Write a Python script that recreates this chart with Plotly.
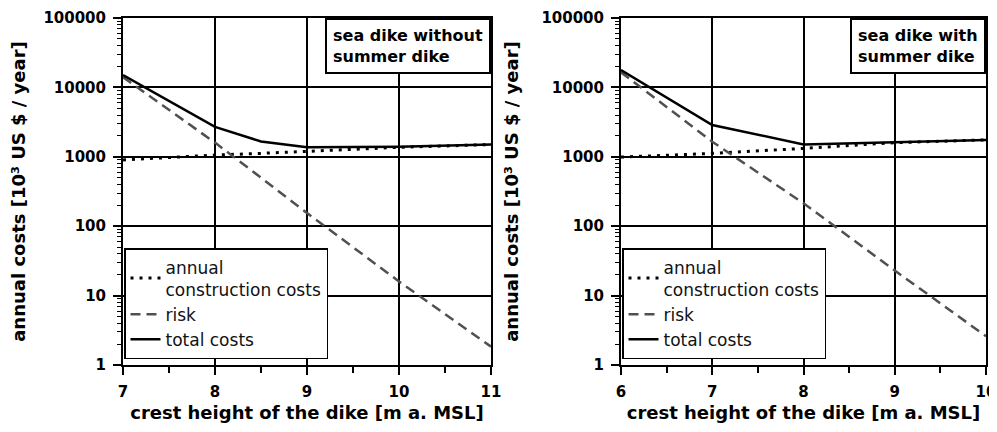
import plotly.graph_objects as go

# ---- data ----
x_left = [7, 8, 8.5, 9, 10, 11]
constr_left = [900, 1060, 1120, 1190, 1370, 1500]
risk_left = [14000, 1600, 500, 155, 16, 1.84]
total_left = [15000, 2700, 1660, 1370, 1400, 1500]

x_right = [6, 7, 8, 9, 10]
constr_right = [990, 1120, 1320, 1600, 1750]
risk_right = [16500, 1650, 214, 23, 2.6]
total_right = [17800, 2870, 1510, 1620, 1750]

y_tickvals = [1, 10, 100, 1000, 10000, 100000]
y_ticktext = ["1", "10", "100", "1000", "10000", "100000"]
y_minor = [m * 10 ** d for d in range(5) for m in range(2, 10)]

names = ["annual<br>construction costs", "risk", "total costs"]
titles = ["sea dike without<br>summer dike", "sea dike with<br>summer dike"]
x_title = "crest height of the dike [m a. MSL]"
y_title = "annual costs [10³ US $ / year]"

FONT = "DejaVu Sans"

# page body has an 8px margin: figure is placed at (8, 8)
OFF = 8
W, H = 997 - OFF, 432 - 2 * OFF


def px_x(p):
    return (p - OFF) / W


def px_y(p):
    return 1 - (p - OFF) / H


fig = go.Figure()

panels = [
    (x_left, constr_left, risk_left, total_left, "x", "y", "legend"),
    (x_right, constr_right, risk_right, total_right, "x2", "y2", "legend2"),
]
for xs, c, r, t, xa, ya, lg in panels:
    fig.add_trace(go.Scatter(x=xs, y=c, mode="lines", name=names[0], xaxis=xa, yaxis=ya,
                             legend=lg, line=dict(color="black", width=3, dash="3px,6px")))
    fig.add_trace(go.Scatter(x=xs, y=r, mode="lines", name=names[1], xaxis=xa, yaxis=ya,
                             legend=lg, line=dict(color="#505050", width=2.5, dash="10px,6px")))
    fig.add_trace(go.Scatter(x=xs, y=t, mode="lines", name=names[2], xaxis=xa, yaxis=ya,
                             legend=lg, line=dict(color="black", width=2.5)))

ydom = [px_y(365), px_y(18)]


def xaxis(dom, rng, anchor):
    return dict(
        domain=dom, range=rng, anchor=anchor, dtick=1, automargin=False,
        showline=True, linecolor="black", linewidth=2, mirror=True,
        showgrid=True, gridcolor="black", gridwidth=1.5, zeroline=False,
        ticks="outside", ticklen=8, tickwidth=2, tickcolor="black",
        ticklabelstandoff=4, ticklabeloverflow="allow",
        minor=dict(ticks="outside", ticklen=6, tickwidth=2, tickcolor="black",
                   dtick=0.5, showgrid=False),
        tickfont=dict(family=FONT, size=15, color="black", weight="bold"),
        title=dict(text="<b>" + x_title + "</b>", standoff=6,
                   font=dict(family=FONT, size=18, color="black")),
    )


def yaxis(anchor):
    return dict(
        domain=ydom, type="log", range=[0, 5], anchor=anchor, automargin=False,
        tickvals=y_tickvals, ticktext=y_ticktext,
        showline=True, linecolor="black", linewidth=2, mirror=True,
        showgrid=True, gridcolor="black", gridwidth=1.5, zeroline=False,
        ticks="outside", ticklen=8, tickwidth=2, tickcolor="black",
        ticklabelstandoff=4, ticklabeloverflow="allow",
        minor=dict(ticks="outside", ticklen=4, tickwidth=1, tickcolor="black",
                   tickvals=y_minor, showgrid=False),
        tickfont=dict(family=FONT, size=15, color="black", weight="bold"),
        title=dict(text="<b>" + y_title + "</b>", standoff=18,
                   font=dict(family=FONT, size=18, color="black")),
    )


legend_common = dict(
    bgcolor="white", bordercolor="black", borderwidth=1.5,
    font=dict(family=FONT, size=17, color="#111"),
    xanchor="left", yanchor="top", tracegroupgap=0, itemwidth=30,
)

fig.update_layout(
    width=W, height=H,
    margin=dict(l=0, r=0, t=0, b=0, autoexpand=False),
    paper_bgcolor="white", plot_bgcolor="white",
    xaxis=xaxis([px_x(123), px_x(491)], [7, 11], "y"),
    yaxis=yaxis("x"),
    xaxis2=xaxis([px_x(621), px_x(986)], [6, 10], "y2"),
    yaxis2=yaxis("x2"),
    legend=dict(x=px_x(124), y=px_y(248), **legend_common),
    legend2=dict(x=px_x(622), y=px_y(248), **legend_common),
    showlegend=True,
)

for i, (xr, yr) in enumerate([("x domain", "y domain"), ("x2 domain", "y2 domain")]):
    fig.add_annotation(
        xref=xr, yref=yr, x=1, y=1, xanchor="right", yanchor="top",
        text="<b>" + titles[i] + "</b>", showarrow=False, align="left",
        font=dict(family=FONT, size=16, color="black"),
        bgcolor="white", bordercolor="black", borderwidth=2, borderpad=6,
    )

fig.write_html("out.html")
